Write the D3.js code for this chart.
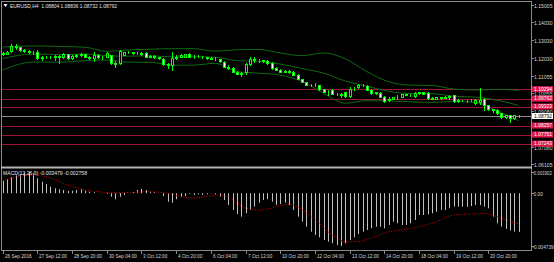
<!DOCTYPE html>
<html><head><meta charset="utf-8">
<script src="https://cdn.jsdelivr.net/npm/d3@7"></script>
<style>html,body{margin:0;padding:0;background:#000;overflow:hidden}svg{display:block}text{font-family:"Liberation Sans",Arial,sans-serif}</style>
</head><body><svg id="c" width="554" height="262"></svg>
<script>
// ---------- DATA ----------
const symbolTitle = "EURUSD,H4";
const headerOHLC = ["1.08804", "1.08836", "1.08732", "1.08792"];
const macdTitle = "MACD(12,26,9) -0.003479 -0.002758";

const open = [1.1232,1.1229,1.1243,1.1271,1.1263,1.1249,1.1243,1.1237,1.1237,1.1204,
1.1207,1.1209,1.1209,1.1215,1.1209,1.1226,1.1204,1.1215,1.1221,1.1226,
1.1209,1.1204,1.1221,1.1209,1.1212,1.1221,1.1176,1.1176,1.1223,1.1237,
1.1235,1.1232,1.1232,1.1232,1.1209,1.1215,1.1207,1.1201,1.1170,1.1162,
1.1204,1.1212,1.1209,1.1229,1.1209,1.1212,1.1209,1.1207,1.1204,1.1201,
1.1198,1.1184,1.1156,1.1148,1.1125,1.1117,1.1123,1.1170,1.1198,1.1193,
1.1190,1.1187,1.1176,1.1148,1.1137,1.1128,1.1131,1.1128,1.1109,1.1086,
1.1070,1.1053,1.1055,1.1053,1.1030,1.1014,1.1025,1.1002,1.1000,1.1011,
1.0991,1.1033,1.1041,1.1055,1.1047,1.1025,1.1008,1.1008,1.0988,1.0969,
1.0977,1.0983,1.0986,1.1002,1.0997,1.0991,1.1008,1.1011,1.1008,1.0980,
1.0977,1.0983,1.0981,1.0986,1.0994,1.0963,1.0969,1.0966,1.0969,1.0954,
1.0960,1.0977,1.0940,1.0918,1.0915,1.0896,1.0873,1.0882,1.0867,1.08804];
const high = [1.1237,1.1243,1.1282,1.1282,1.1265,1.1254,1.1249,1.1243,1.1249,1.1215,
1.1215,1.1215,1.1221,1.1221,1.1232,1.1229,1.1221,1.1226,1.1232,1.1229,
1.1215,1.1237,1.1226,1.1215,1.1235,1.1223,1.1187,1.1249,1.1240,1.1243,
1.1240,1.1237,1.1237,1.1235,1.1221,1.1218,1.1209,1.1204,1.1176,1.1237,
1.1218,1.1226,1.1229,1.1232,1.1218,1.1221,1.1215,1.1212,1.1209,1.1207,
1.1201,1.1187,1.1162,1.1151,1.1131,1.1123,1.1176,1.1207,1.1209,1.1201,
1.1195,1.1193,1.1179,1.1153,1.1142,1.1137,1.1134,1.1131,1.1112,1.1089,
1.1072,1.1061,1.1064,1.1055,1.1033,1.1025,1.1033,1.1008,1.1008,1.1014,
1.1039,1.1039,1.1061,1.1058,1.1050,1.1030,1.1016,1.1011,1.0991,1.0983,
1.0988,1.0994,1.1005,1.1005,1.1002,1.1011,1.1016,1.1016,1.1011,1.0986,
1.0988,1.0988,1.0991,1.0994,1.0997,1.0974,1.0971,1.0971,1.0974,1.0977,
1.1036,1.0980,1.0943,1.0921,1.0918,1.0898,1.0887,1.0884,1.0887,1.08836];
const low = [1.1221,1.1226,1.1237,1.1254,1.1243,1.1237,1.1232,1.1226,1.1198,1.1193,
1.1204,1.1204,1.1193,1.1176,1.1204,1.1201,1.1201,1.1209,1.1215,1.1207,
1.1201,1.1187,1.1204,1.1198,1.1209,1.1173,1.1153,1.1170,1.1221,1.1232,
1.1229,1.1226,1.1221,1.1207,1.1207,1.1204,1.1198,1.1167,1.1148,1.1137,
1.1201,1.1209,1.1207,1.1207,1.1204,1.1207,1.1204,1.1201,1.1198,1.1193,
1.1181,1.1153,1.1145,1.1123,1.1112,1.1103,1.1117,1.1167,1.1181,1.1184,
1.1181,1.1173,1.1145,1.1134,1.1123,1.1123,1.1120,1.1106,1.1084,1.1067,
1.1050,1.1047,1.1047,1.1027,1.1011,1.0997,1.1000,1.0994,1.0986,1.0988,
1.0983,1.1025,1.1036,1.1047,1.1022,1.1005,1.1002,1.0983,1.0960,1.0963,
1.0974,1.0977,1.0983,1.0994,1.0991,1.0988,1.1005,1.1000,1.0977,1.0972,
1.0972,1.0977,1.0980,1.0977,1.0960,1.0960,1.0963,1.0960,1.0963,1.0949,
1.0946,1.0912,1.0915,1.0904,1.0893,1.0870,1.0870,1.0845,1.0865,1.08732];
const close = [1.1229,1.1237,1.1271,1.1263,1.1249,1.1243,1.1237,1.1235,1.1204,1.1207,
1.1209,1.1211,1.1215,1.1212,1.1229,1.1204,1.1215,1.1221,1.1226,1.1209,
1.1204,1.1221,1.1209,1.1207,1.1232,1.1176,1.1173,1.1243,1.1237,1.1235,
1.1232,1.1230,1.1229,1.1209,1.1215,1.1207,1.1204,1.1170,1.1162,1.1204,
1.1212,1.1221,1.1226,1.1209,1.1212,1.1209,1.1207,1.1204,1.1201,1.1198,
1.1187,1.1156,1.1148,1.1125,1.1117,1.1120,1.1170,1.1198,1.1193,1.1190,
1.1187,1.1176,1.1148,1.1137,1.1128,1.1131,1.1125,1.1109,1.1086,1.1070,
1.1053,1.1055,1.1053,1.1030,1.1014,1.1011,1.1002,1.1000,1.0997,1.0991,
1.1033,1.1030,1.1055,1.1050,1.1025,1.1008,1.1011,1.0986,1.0963,1.0977,
1.0983,1.0986,1.1002,1.0997,1.0995,1.1008,1.1011,1.1005,1.0980,1.0977,
1.0983,1.0981,1.0986,1.0991,1.0963,1.0969,1.0966,1.0969,1.0966,1.0971,
1.0966,1.0940,1.0918,1.0910,1.0896,1.0873,1.0882,1.0870,1.0882,1.08792];

// Bollinger band readings (bar index, upper, middle, lower)
const bandIdx = [0,7,14,19,24,29,34,39,44,49,54,59,64,69,74,79,84,89,94,99,104,109,114,119];
const bandUpper = [1.1265,1.1271,1.1268,1.1264,1.1241,1.1249,1.1253,1.1256,1.1256,1.1242,1.1250,1.1252,1.1232,1.1217,1.1232,1.1199,1.1127,1.1071,1.1052,1.1050,1.1030,1.1025,1.1028,1.1023];
const bandMiddle = [1.1201,1.1226,1.1223,1.1226,1.1217,1.1214,1.1216,1.1210,1.1211,1.1208,1.1189,1.1185,1.1170,1.1145,1.1119,1.1075,1.1046,1.1017,1.1005,1.1004,1.0990,1.0985,1.0968,1.0938];
const bandLower = [1.1137,1.1181,1.1181,1.1189,1.1193,1.1180,1.1180,1.1164,1.1164,1.1174,1.1128,1.1119,1.1108,1.1073,1.1006,1.0951,1.0965,1.0963,1.0959,1.0955,1.0961,1.0955,1.0908,1.0853];

// horizontal levels and current price
const levels = [1.10294, 1.09762, 1.09323, 1.08257, 1.07751, 1.07243];
const lastPrice = 1.08792;
const priceTicks = [1.15005,1.14030,1.13030,1.12030,1.11055,1.10055,1.09080,1.07080,1.06105];

// MACD main values
const macd = [0.001122,0.001247,0.001427,0.00160,0.00172,0.00185,0.001902,0.00178,0.001337,0.001032,
0.000826,0.000583,0.000440,0.000350,0.000287,0.000197,0.000224,0.000287,0.000350,0.000224,
0.000135,0.000081,0.000018,-0.000009,-0.000072,-0.000314,-0.000547,-0.000314,-0.000162,-0.000009,
0.000081,0.000287,0.000377,0.000287,0.000135,0.000081,-0.000009,-0.000251,-0.000763,-0.000853,
-0.000547,-0.000368,-0.000251,-0.000072,-0.000162,-0.000099,-0.000162,-0.000099,-0.00002,-0.000099,
-0.000314,-0.000610,-0.001059,-0.001508,-0.001867,-0.002109,-0.001804,-0.001508,-0.001211,-0.000853,
-0.000610,-0.000547,-0.000763,-0.001059,-0.000969,-0.000853,-0.001059,-0.001508,-0.002109,-0.002558,
-0.003006,-0.003455,-0.003751,-0.003958,-0.004200,-0.004352,-0.004496,-0.004648,-0.004739,-0.004496,
-0.004200,-0.003958,-0.003661,-0.003455,-0.003302,-0.003150,-0.003006,-0.003006,-0.003150,-0.002854,
-0.002558,-0.002701,-0.002854,-0.002854,-0.002701,-0.002405,-0.001956,-0.001956,-0.001894,-0.001804,
-0.001660,-0.001508,-0.001508,-0.001355,-0.001211,-0.001211,-0.001211,-0.001211,-0.001149,-0.001059,
-0.001059,-0.001211,-0.001355,-0.002109,-0.002701,-0.003006,-0.003213,-0.003347,-0.003437,-0.003479];
const signalIdx = [0,3,7,11,15,18,22,26,30,34,38,42,44,47,50,52,54,56,59,61,63,66,68,70,73,75,77,79,82,84,86,88,92,96,100,104,108,111,114,117,119];
const signalVal = [0.00109,0.00146,0.00163,0.00136,0.00074,0.00038,0.00013,0.00004,0.00008,0.00013,-0.00001,-0.00037,-0.00045,-0.00028,-0.00018,-0.00031,-0.00088,-0.00133,-0.00151,-0.00142,-0.00121,-0.00100,-0.00121,-0.00178,-0.00267,-0.00345,-0.00402,-0.00435,-0.00435,-0.00414,-0.00390,-0.00355,-0.00330,-0.00301,-0.00256,-0.00196,-0.00187,-0.00180,-0.00211,-0.00256,-0.002758];
const macdTicks = [0.001902, 0.00, -0.004739];
const macdTickLabels = ["0.001902", "0.00", "-0.004739"];

const timeIdx = [0,8,16,24,32,40,48,56,64,72,80,88,96,104,112];
const timeLabels = ["26 Sep 2016","27 Sep 12:00","28 Sep 20:00","30 Sep 04:00","3 Oct 12:00","4 Oct 20:00","6 Oct 04:00","7 Oct 12:00","10 Oct 20:00","12 Oct 04:00","13 Oct 12:00","14 Oct 20:00","18 Oct 04:00","19 Oct 12:00","20 Oct 20:00"];

// ---------- DRAW ----------
const svg = d3.select("#c");
const W = 554, H = 262;
const plotR = 531;
svg.append("rect").attr("width", W).attr("height", H).attr("fill", "#000");

const x = d3.scaleLinear().domain([0, 119]).range([2.7, 518.8]);
const y = d3.scaleLinear().domain([1.06105, 1.15005]).range([164, 5]);
const ym = d3.scaleLinear().domain([-0.004739, 0.001902]).range([246, 172]);
const px = i => Math.round(x(i)) + 0.5;

const fs = 5.6, labCol = "#d6d6d6";
// squeeze a text to a width (or a factor of its natural width)
function squeeze(t, opts) {
  const n = t.node().getComputedTextLength();
  let w = opts.width != null ? opts.width : n * opts.factor;
  if (opts.max != null) w = Math.min(w, opts.max);
  t.attr("textLength", w).attr("lengthAdjust", "spacingAndGlyphs");
  return t;
}

// frame
const frame = svg.append("g").attr("stroke", "#8a8a8a").attr("fill", "none");
frame.append("line").attr("x1", 1.5).attr("x2", 1.5).attr("y1", 1).attr("y2", 250);
frame.append("line").attr("x1", 1).attr("x2", plotR).attr("y1", 1.5).attr("y2", 1.5);
frame.append("line").attr("x1", plotR + 0.5).attr("x2", plotR + 0.5).attr("y1", 1).attr("y2", 250);
frame.append("line").attr("x1", 1).attr("x2", plotR + 1).attr("y1", 250.5).attr("y2", 250.5);
svg.append("rect").attr("x", 1).attr("y", 166.5).attr("width", plotR).attr("height", 2).attr("fill", "#b4b4b4");

// price axis ticks (labels sit just under their tick, as in the terminal)
const pa = svg.append("g");
priceTicks.forEach(t => {
  const yy = Math.round(y(t)) + 0.5;
  pa.append("line").attr("x1", plotR).attr("x2", plotR + 3).attr("y1", yy).attr("y2", yy).attr("stroke", "#8a8a8a");
  squeeze(pa.append("text").attr("x", 534).attr("y", yy + 0.6).attr("dy", "0.35em").attr("font-size", fs).attr("fill", labCol).text(t.toFixed(5)), {width: 18.5});
});

// levels
const lv = svg.append("g");
levels.forEach(l => {
  const yy = Math.round(y(l)) + 0.5;
  lv.append("line").attr("x1", 2).attr("x2", plotR).attr("y1", yy).attr("y2", yy).attr("stroke", "#9a1835").attr("stroke-width", 1);
});
const lpY = Math.round(y(lastPrice)) + 0.5;
lv.append("line").attr("x1", 2).attr("x2", plotR).attr("y1", lpY).attr("y2", lpY).attr("stroke", "#8c8c8c");

// bands
const bandLine = vals => d3.line().x((d, k) => x(bandIdx[k])).y(d => y(d)).curve(d3.curveMonotoneX)(vals);
[bandUpper, bandMiddle, bandLower].forEach(v => {
  svg.append("path").attr("d", bandLine(v)).attr("fill", "none").attr("stroke", "#0e6a12").attr("stroke-width", 1);
});

// candles
const cg = svg.append("g");
close.forEach((c, i) => {
  const o = open[i], cx = px(i);
  cg.append("line").attr("x1", cx).attr("x2", cx).attr("y1", Math.round(y(high[i]))).attr("y2", Math.round(y(low[i])) + 1).attr("stroke", "#00ff00");
  const top = Math.round(y(Math.max(o, c))), bot = Math.round(y(Math.min(o, c)));
  const h = Math.max(bot - top, 0);
  cg.append("rect").attr("x", cx - 1).attr("y", top + 0.5).attr("width", 2).attr("height", h)
    .attr("fill", c >= o ? "#000" : "#ffffff").attr("stroke", "#00ff00").attr("stroke-width", 1);
});

// level labels
const boxFs = 5.2;
levels.forEach(l => {
  const yy = y(l);
  lv.append("rect").attr("x", 532).attr("y", yy - 3).attr("width", 21).attr("height", 6).attr("fill", "#e0174a");
  squeeze(lv.append("text").attr("x", 534).attr("y", yy).attr("dy", "0.35em").attr("font-size", boxFs).attr("fill", "#fff").text(l.toFixed(5)), {width: 18});
});
lv.append("rect").attr("x", 532).attr("y", y(lastPrice) - 3).attr("width", 21).attr("height", 6).attr("fill", "#fff");
squeeze(lv.append("text").attr("x", 534).attr("y", y(lastPrice)).attr("dy", "0.35em").attr("font-size", boxFs).attr("fill", "#000").text(lastPrice.toFixed(5)), {width: 18});

// header
svg.append("path").attr("d", "M3.5,4 L7.5,4 L5.5,7 Z").attr("fill", "#fff");
squeeze(svg.append("text").attr("x", 10).attr("y", 6).attr("dy", "0.35em").attr("font-size", fs).attr("fill", "#e6e6e6")
  .attr("xml:space", "preserve").text(symbolTitle + "  " + headerOHLC.join(" ")), {width: 107});

// MACD
const mg = svg.append("g");
macd.forEach((v, i) => {
  mg.append("line").attr("x1", px(i)).attr("x2", px(i)).attr("y1", ym(0)).attr("y2", ym(v)).attr("stroke", "#c0c0c0").attr("stroke-width", 1);
});
const sigLine = d3.line().x((d, k) => x(signalIdx[k])).y(d => ym(d)).curve(d3.curveMonotoneX);
mg.append("path").attr("d", sigLine(signalVal)).attr("fill", "none").attr("stroke", "#e00000").attr("stroke-width", 1).attr("stroke-dasharray", "1,1.6");
squeeze(svg.append("text").attr("x", 3).attr("y", 173.5).attr("dy", "0.35em").attr("font-size", fs).attr("fill", "#e6e6e6").text(macdTitle), {width: 84});
const macdFs = [5.2, 5.2, 4.7];
macdTicks.forEach((t, k) => {
  const yy = Math.round(ym(t)) + 0.5;
  svg.append("line").attr("x1", plotR).attr("x2", plotR + 3).attr("y1", yy).attr("y2", yy).attr("stroke", "#8a8a8a");
  const tx = svg.append("text").attr("x", k === 2 ? 532.5 : 533.5).attr("y", yy + 0.5).attr("dy", "0.35em").attr("font-size", macdFs[k]).attr("fill", labCol).text(macdTickLabels[k]);
  if (k !== 2) squeeze(tx, {factor: 0.92, max: 18.5});
});

// time axis
timeIdx.forEach((ti, k) => {
  const xx = px(ti);
  svg.append("line").attr("x1", xx).attr("x2", xx).attr("y1", 250).attr("y2", 254).attr("stroke", "#8a8a8a");
  squeeze(svg.append("text").attr("x", xx + 1.5).attr("y", 256.5).attr("dy", "0.35em").attr("font-size", fs).attr("fill", labCol).text(timeLabels[k]), {factor: 0.84});
});
</script></body></html>
